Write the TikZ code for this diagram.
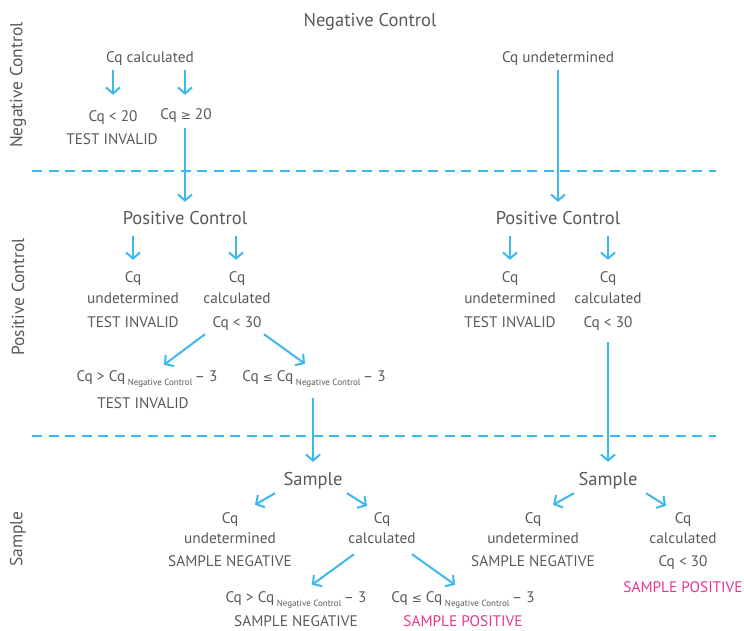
\documentclass[tikz,border=0pt]{standalone}
\usepackage{fontspec}
\setmainfont{PT Sans}
\newfontfamily\symf{DejaVu Sans}
\usetikzlibrary{arrows.meta}
\definecolor{txt}{HTML}{58595B}
\definecolor{cy}{HTML}{3CB8EA}
\definecolor{mg}{HTML}{E8358F}
\newcommand{\ncsub}{\,\raisebox{-3.5pt}{\fontsize{9}{9}\selectfont Negative Control}\,}
\newcommand{\gep}{{\symf\fontsize{12}{12}\selectfont ≥}}
\newcommand{\lep}{{\symf\fontsize{12}{12}\selectfont ≤}}
\begin{document}
\begin{tikzpicture}[x=1pt,y=-1pt,
  every node/.style={inner sep=0pt, text=txt},
  txtnode/.style={font=\fontsize{15.3}{15.3}\selectfont, text height=12pt, text depth=1pt},
  headnode/.style={font=\fontsize{18.5}{18.5}\selectfont, text height=15pt, text depth=2pt},
  sidelabel/.style={font=\fontsize{17.5}{17.5}\selectfont, rotate=90},
  postxt/.style={txtnode, text=mg},
  arr/.style={draw=cy, line width=2pt, -{Straight Barb[length=6pt,width=14pt]}},
  sepline/.style={draw=cy, line width=2.4pt, dash pattern=on 10pt off 6.5pt}]
\useasboundingbox (0,0) rectangle (744,630);

% section labels
\node[sidelabel] (sideN) at (18,85) {Negative Control};
\node[sidelabel] (sideP) at (18,297) {Positive Control};
\node[sidelabel] (sideS) at (18,539) {Sample};

% separators
\coordinate (s1a) at (32,171); \coordinate (s1b) at (716,171);
\coordinate (s2a) at (32,436); \coordinate (s2b) at (716,436);
\draw[sepline] (s1a) -- (s1b);
\draw[sepline] (s2a) -- (s2b);

% negative control
\node[headnode] (title) at (370,20) {Negative Control};
\node[txtnode] (cqcalcN) at (150,57) {Cq calculated};
\node[txtnode] (lt20) at (113,116) {Cq < 20};
\node[txtnode] (ge20) at (186,114) {Cq \gep\ 20};
\node[txtnode] (ti1) at (112,139) {TEST INVALID};
\node[txtnode] (cqundN) at (558,57) {Cq undetermined};

\draw[arr, shorten <=6.5pt, shorten >=14.5pt] (lt20 |- cqcalcN.south) -- (lt20.north);
\draw[arr, shorten <=6.5pt, shorten >=12.5pt] ([xshift=-1pt]ge20.north |- cqcalcN.south) -- ([xshift=-1pt]ge20.north);

% positive control
\node[headnode] (pcL) at (185,218) {Positive Control};
\node[headnode] (pcR) at (558,218) {Positive Control};
\draw[arr, shorten <=7.5pt, shorten >=7.5pt] ([xshift=-1pt]ge20.south) -- (pcL.north);
\draw[arr, shorten <=6.5pt, shorten >=7.5pt] (cqundN.south) -- (pcR.north);

\node[txtnode] (pLu1) at (133,277) {Cq};
\node[txtnode] (pLu2) at (133,298) {undetermined};
\node[txtnode] (pLu3) at (133,322) {TEST INVALID};
\node[txtnode] (pLc1) at (237,277) {Cq};
\node[txtnode] (pLc2) at (237,298) {calculated};
\node[txtnode] (pLc3) at (237,322) {Cq < 30};
\node[txtnode] (pRu1) at (510,277) {Cq};
\node[txtnode] (pRu2) at (510,298) {undetermined};
\node[txtnode] (pRu3) at (510,322) {TEST INVALID};
\node[txtnode] (pRc1) at (608,277) {Cq};
\node[txtnode] (pRc2) at (608,298) {calculated};
\node[txtnode] (pRc3) at (608,322) {Cq < 30};

\draw[arr, shorten <=9.5pt, shorten >=10.5pt] (pLu1 |- pcL.south) -- (pLu1.north);
\draw[arr, shorten <=9.5pt, shorten >=10.5pt] ([xshift=-1pt]pLc1.north |- pcL.south) -- ([xshift=-1pt]pLc1.north);
\draw[arr, shorten <=9.5pt, shorten >=10.5pt] (pRu1 |- pcR.south) -- (pRu1.north);
\draw[arr, shorten <=9.5pt, shorten >=10.5pt] (pRc1 |- pcR.south) -- (pRc1.north);

\node[txtnode] (gtL) at (147,376) {Cq > Cq\ncsub – 3};
\node[txtnode] (ti2) at (143,403) {TEST INVALID};
\node[txtnode] (leL) at (314,376) {Cq \lep\ Cq\ncsub – 3};

\draw[arr] ([shift={(-32,5.5)}]pLc3.south) -- ([shift={(17,-4.5)}]gtL.north);
\draw[arr] ([shift={(27,5.5)}]pLc3.south) -- ([shift={(-9,-5.5)}]leL.north);

% sample
\node[headnode] (smL) at (313,479) {Sample};
\node[headnode] (smR) at (608,479) {Sample};
\draw[arr, shorten <=15.5pt, shorten >=8.5pt] ([xshift=-1pt]leL.south) -- (smL.north);
\draw[arr, shorten <=13.5pt, shorten >=8.5pt] (pRc3.south) -- (smR.north);

\node[txtnode] (sLu1) at (230,518) {Cq};
\node[txtnode] (sLu2) at (230,538) {undetermined};
\node[txtnode] (sLu3) at (230,561) {SAMPLE NEGATIVE};
\node[txtnode] (sLc1) at (382,518) {Cq};
\node[txtnode] (sLc2) at (382,538) {calculated};
\node[txtnode] (sRu1) at (533,518) {Cq};
\node[txtnode] (sRu2) at (533,538) {undetermined};
\node[txtnode] (sRu3) at (533,561) {SAMPLE NEGATIVE};
\node[txtnode] (sRc1) at (683,518) {Cq};
\node[txtnode] (sRc2) at (683,538) {calculated};
\node[txtnode] (sRc3) at (683,561) {Cq < 30};
\node[postxt] (sRc4) at (683,587) {SAMPLE POSITIVE};

\draw[arr] ([shift={(-38,5.5)}]smL.south) -- ([shift={(25,-6.5)}]sLu1.north);
\draw[arr] ([shift={(34,5.5)}]smL.south) -- ([shift={(-15,-5.5)}]sLc1.north);
\draw[arr] ([shift={(-34,5.5)}]smR.south) -- ([shift={(20,-6.5)}]sRu1.north);
\draw[arr] ([shift={(38,5.5)}]smR.south) -- ([shift={(-17,-5.5)}]sRc1.north);

\node[txtnode] (gtS) at (296,597) {Cq > Cq\ncsub – 3};
\node[txtnode] (snS) at (296,621) {SAMPLE NEGATIVE};
\node[txtnode] (leS) at (463,597) {Cq \lep\ Cq\ncsub – 3};
\node[postxt] (spS) at (463,621) {SAMPLE POSITIVE};

\draw[arr] ([shift={(-28,9.5)}]sLc2.south) -- ([shift={(16,-5.5)}]gtS.north);
\draw[arr] ([shift={(30,9.5)}]sLc2.south) -- ([shift={(-8,-5.5)}]leS.north);
\end{tikzpicture}
\end{document}
